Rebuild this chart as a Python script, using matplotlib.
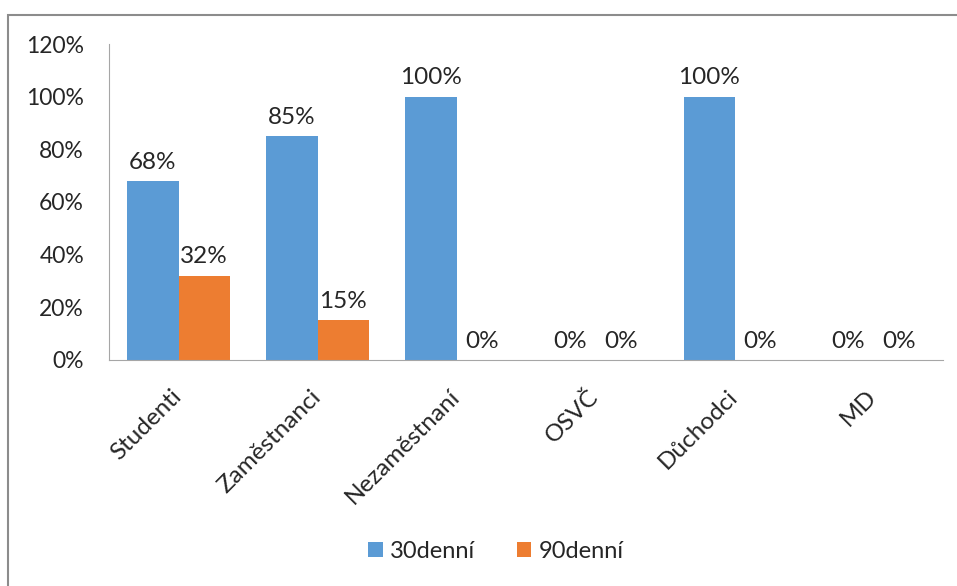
import matplotlib
import numpy as np

from matplotlib import pyplot as plt
from matplotlib.patches import Rectangle

matplotlib.rcParams['font.family'] = ['Lato', 'DejaVu Sans']

categories = ['Studenti', 'Zaměstnanci', 'Nezaměstnaní', 'OSVČ', 'Důchodci', 'MD']
series_30 = [68, 85, 100, 0, 100, 0]
series_90 = [32, 15, 0, 0, 0, 0]
y_ticks = [0, 20, 40, 60, 80, 100, 120]

blue = '#5B9BD5'
orange = '#ED7D31'
text_color = '#262626'

fig = plt.figure(figsize=(9.57, 5.86), dpi=100)
ax = fig.add_axes([0.1139, 0.3857, 0.8715, 0.5392])

# outer chart frame, running off the right and bottom edges
fig.patches.append(Rectangle((8 / 957, -0.1), 1.2, 1.1 - 15 / 586, transform=fig.transFigure,
                             fill=False, edgecolor='#8c8c8c', linewidth=1.5))

x = np.arange(len(categories))
width = 0.367
b1 = ax.bar(x - width / 2, series_30, width, color=blue, label='30denní')
b2 = ax.bar(x + width / 2, series_90, width, color=orange, label='90denní')

for bars in (b1, b2):
    for rect in bars:
        h = rect.get_height()
        ax.annotate(f'{h:.0f}%', (rect.get_x() + rect.get_width() / 2, h),
                    xytext=(0, 6), textcoords='offset points', ha='center', va='bottom',
                    fontsize=17.5, color=text_color)

ax.set_xlim(-0.5, len(categories) - 0.5)
ax.set_ylim(0, 120)
ax.set_yticks(y_ticks)
ax.set_yticklabels([f'{t}%' for t in y_ticks], fontsize=16.5, color=text_color)
ax.set_xticks(x)
ax.set_xticklabels(categories, rotation=45, ha='right', va='center', rotation_mode='anchor',
                   fontsize=17.5, color=text_color)
ax.tick_params(axis='y', length=0, pad=18)
ax.tick_params(axis='x', length=0, pad=24)

ax.spines['top'].set_visible(False)
ax.spines['right'].set_visible(False)
ax.spines['left'].set_color('#a6a6a6')
ax.spines['bottom'].set_color('#a6a6a6')

fig.legend(handles=[b1, b2], loc='center', bbox_to_anchor=(496 / 957, 1 - 551 / 586), ncol=2,
           frameon=False, fontsize=17, handlelength=0.6, handleheight=0.6, handletextpad=0.3,
           columnspacing=1.8, labelcolor=text_color)

plt.savefig('out.png', dpi=100)
plt.close()
